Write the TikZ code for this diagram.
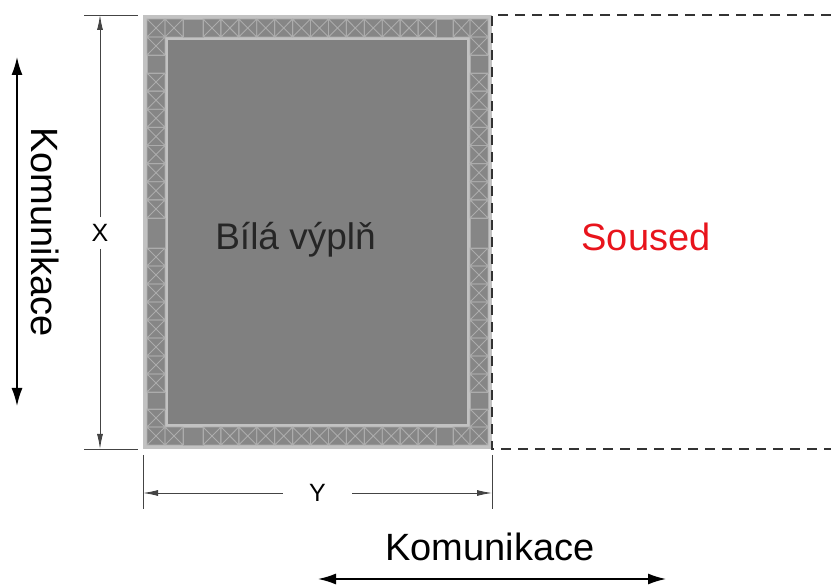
\documentclass[tikz,border=0pt]{standalone}
\usepackage{fontspec}
\setmainfont{Liberation Sans}
\usetikzlibrary{arrows.meta}
\definecolor{framelight}{HTML}{C2C2C2}
\definecolor{bandgray}{HTML}{868686}
\definecolor{fillgray}{HTML}{808080}
\definecolor{crossgray}{HTML}{ACACAC}
\definecolor{dimgray}{HTML}{444444}
\definecolor{textdark}{HTML}{262626}
\definecolor{sousedred}{HTML}{E8141C}
\newcommand{\crosscell}[4]{\draw[cell] ({#1},{#2}) rectangle ({#3},{#4}) ({#1},{#2}) -- ({#3},{#4}) ({#1},{#4}) -- ({#3},{#2});}
\newcommand{\plaincell}[4]{\draw[cell] ({#1},{#2}) rectangle ({#3},{#4});}

\begin{document}
\begin{tikzpicture}[x=1pt,y=-1pt,
  cell/.style={draw=crossgray,line width=0.9pt},
  dimline/.style={draw=dimgray,line width=0.9pt,-{Latex[length=15pt,width=6pt]}},
  extline/.style={draw=dimgray,line width=0.9pt},
  komarrow/.style={draw=black,line width=1.6pt,{Latex[length=18pt,width=11pt]}-{Latex[length=18pt,width=11pt]}},
  soused/.style={draw=black!80,line width=1.8pt,dash pattern=on 10pt off 7pt},
  bigtext/.style={font=\fontsize{38}{46}\selectfont,inner sep=0pt,anchor=base},
  dimtext/.style={font=\fontsize{25}{30}\selectfont,text=black}]
  \useasboundingbox (0,0) rectangle (831,585);

  % frame
  \coordinate (tl) at (143,15);
  \coordinate (tr) at (492,15);
  \coordinate (bl) at (143,449);
  \coordinate (br) at (492,449);
  \fill[framelight] (tl) rectangle (br);
  \fill[bandgray] (147,19) rectangle (488,445);
  \fill[framelight] (165,37) rectangle (470,427);
  \fill[fillgray] (168,40) rectangle (467,424);

  % top and bottom rows
  \foreach \y in {19,427}{%
    \foreach \x/\w in {147/18,165/18,453/17,470/18}{%
      \crosscell{\x}{\y}{\x+\w}{\y+18}
    }
    \plaincell{183}{\y}{203}{\y+18}
    \plaincell{436}{\y}{453}{\y+18}
    \foreach \i in {0,...,12}{%
      \crosscell{203+\i*17.923}{\y}{203+(\i+1)*17.923}{\y+18}
    }
  }
  % left and right columns
  \foreach \x in {147,470}{%
    \crosscell{\x}{37}{\x+18}{55}
    \plaincell{\x}{55}{\x+18}{73}
    \foreach \i in {0,...,7}{%
      \crosscell{\x}{73+\i*18.125}{\x+18}{73+(\i+1)*18.125}
    }
    \plaincell{\x}{218}{\x+18}{248}
    \foreach \i in {0,...,7}{%
      \crosscell{\x}{248+\i*18}{\x+18}{248+(\i+1)*18}
    }
    \plaincell{\x}{392}{\x+18}{409}
    \crosscell{\x}{409}{\x+18}{427}
  }

  % neighbour
  \coordinate (ntop) at (831,15);
  \coordinate (nbot) at (831,449);
  \draw[soused] (ntop) -- (tr) -- (br) -- (nbot);

  % dimensions
  \coordinate (xtop) at (100,15);
  \coordinate (xbot) at (100,449);
  \node[dimtext,inner xsep=2pt,inner ysep=7pt] (xlab) at (100,233) {X};
  \draw[dimline] (xlab) -- (xtop);
  \draw[dimline] (xlab) -- (xbot);
  \draw[extline] (xtop) ++(-16,0) -- ++(54,0);
  \draw[extline] (xbot) ++(-16,0) -- ++(54,0);

  \coordinate (yleft) at (143,493);
  \coordinate (yright) at (492,493);
  \node[dimtext,inner xsep=26pt,inner ysep=2pt] (ylab) at (317.5,493) {Y};
  \draw[dimline] (ylab) -- (yleft);
  \draw[dimline] (ylab) -- (yright);
  \draw[extline] (bl) ++(0,6) -- ++(0,54);
  \draw[extline] (br) ++(0,6) -- ++(0,54);

  % labels
  \node[bigtext,text=textdark,font=\fontsize{37}{44}\selectfont] (fill) at (295.5,250) {Bílá výplň};
  \node[bigtext,text=sousedred] (neighbour) at (646,251) {Soused};

  % communication
  \node[bigtext,rotate=-90] (komleft) at (31,232) {Komunikace};
  \node[bigtext] (kombottom) at (490,560) {Komunikace};
  \coordinate (kltop) at (17,57);
  \coordinate (klbot) at (17,406);
  \draw[komarrow] (kltop) -- (klbot);
  \coordinate (kbleft) at (318,579);
  \coordinate (kbright) at (666,579);
  \draw[komarrow] (kbleft) -- (kbright);
\end{tikzpicture}
\end{document}
